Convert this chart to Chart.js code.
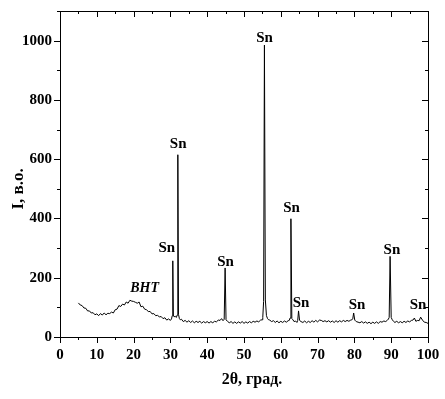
<!DOCTYPE html>
<html><head><meta charset="utf-8">
<script src="https://cdn.jsdelivr.net/npm/chart.js@4/dist/chart.umd.min.js"></script>
<style>html,body{margin:0;padding:0;background:#fff}</style>
</head><body>
<canvas id="c" width="445" height="399"></canvas>
<script>
// 2θ (degrees) and intensity (a.u.)
const twoTheta = [
 5.0,5.5,6.0,6.5,7.0,7.5,8.0,8.5,9.0,9.5,10.0,10.5,11.0,11.5,12.0,12.5,13.0,13.5,14.0,14.5,
 15.0,15.5,16.0,16.5,17.0,17.5,18.0,18.5,19.0,19.5,20.0,20.5,21.0,21.5,22.0,22.5,23.0,23.5,24.0,24.5,
 25.0,25.5,26.0,26.5,27.0,27.5,28.0,28.5,29.0,29.5,30.0,30.3,30.5,30.65,30.8,31.0,31.3,31.6,31.85,32.02,
 32.2,32.45,32.7,33.0,33.5,34.0,34.5,35.0,35.5,36.0,36.5,37.0,37.5,38.0,38.5,39.0,39.5,40.0,
 40.5,41.0,41.5,42.0,42.5,43.0,43.5,43.9,44.3,44.62,44.87,45.12,45.5,46.0,46.5,47.0,47.5,48.0,48.5,
 49.0,49.5,50.0,50.5,51.0,51.5,52.0,52.5,53.0,53.5,54.0,54.5,54.9,55.1,55.33,55.55,55.8,56.1,
 56.4,56.7,57.0,57.5,58.0,58.5,59.0,59.5,60.0,60.5,61.0,61.5,62.0,62.3,62.52,62.75,63.0,63.3,63.6,
 64.0,64.38,64.6,64.82,65.1,65.5,66.0,66.5,67.0,67.5,68.0,68.5,69.0,69.5,70.0,70.5,71.0,71.5,72.0,72.5,
 73.0,73.5,74.0,74.5,75.0,75.5,76.0,76.5,77.0,77.5,78.0,78.5,79.0,79.32,79.55,79.8,80.1,80.5,81.0,81.5,
 82.0,82.5,83.0,83.5,84.0,84.5,85.0,85.5,86.0,86.5,87.0,87.5,88.0,88.5,89.0,89.22,89.45,89.7,90.0,
 90.3,90.7,91.0,91.5,92.0,92.5,93.0,93.5,94.0,94.5,95.0,95.5,95.9,96.3,96.7,97.2,97.6,98.0,98.5,99.0,
 99.5,100.0
];
const intensity = [
 115,108,106,98,97,88,88,81,82,75,78,72,79,74,81,75,80,79,84,81,
 92,94,106,103,111,108,118,114,124,121,120,117,114,118,102,104,94,92,86,86,
 78,79,72,73,68,69,62,65,57,61,56,61,72,257,74,68,70,66,74,615,
 76,62,58,60,52,56,50,55,49,54,48,53,49,53,47,52,48,52,
 47,52,48,53,51,57,56,62,55,60,233,58,53,48,52,46,51,46,51,47,
 52,46,51,47,52,48,53,50,54,51,57,58,66,120,985,125,72,62,
 58,57,52,55,49,54,48,53,49,54,50,55,56,64,399,62,58,52,54,
 49,56,88,56,52,49,54,48,53,49,55,50,56,51,57,56,52,55,51,55,
 50,54,49,55,50,55,51,56,52,56,53,57,58,61,81,57,52,50,48,52,
 47,51,46,50,45,50,46,51,46,52,50,54,52,57,60,66,272,66,58,
 52,49,53,48,52,48,53,49,54,51,56,57,64,53,56,55,67,57,50,49,
 46,47
];
// peak annotations (position in data units)
const peakLabelText = ['Sn','Sn','Sn','Sn','Sn','Sn','Sn','Sn','Sn','ВНТ'];
const peakLabelX    = [29.0, 32.1, 45.0, 55.6, 62.9, 65.5, 80.7, 90.2, 97.3, 23.0];
const peakLabelY    = [300, 652, 253, 1008, 435, 115, 109, 294, 109, 165];

const xMin = 0, xMax = 100, yMin = 0, yMax = 1100;

const serif = '"Liberation Serif", "Times New Roman", serif';

const framePlugin = {
  id: 'frame',
  afterDraw(chart) {
    const {ctx, chartArea: a, scales: {x, y}} = chart;
    ctx.save();
    ctx.strokeStyle = '#000';
    ctx.lineWidth = 1;
    ctx.strokeRect(Math.round(a.left) + 0.5, Math.round(a.top) + 0.5,
                   Math.round(a.right - a.left), Math.round(a.bottom - a.top));
    ctx.beginPath();
    x.ticks.forEach(t => {
      const px = Math.round(x.getPixelForValue(t.value)) + 0.5;
      const len = t.value % 10 === 0 ? 6 : 3;
      ctx.moveTo(px, a.bottom); ctx.lineTo(px, a.bottom + len);
      ctx.moveTo(px, a.top); ctx.lineTo(px, a.top + len);
    });
    y.ticks.forEach(t => {
      const py = Math.round(y.getPixelForValue(t.value)) + 0.5;
      const len = t.value % 200 === 0 ? 6 : 3;
      ctx.moveTo(a.left - len, py); ctx.lineTo(a.left, py);
      ctx.moveTo(a.right - len, py); ctx.lineTo(a.right, py);
    });
    ctx.stroke();
    ctx.fillStyle = '#000';
    ctx.textAlign = 'center';
    ctx.textBaseline = 'middle';
    peakLabelText.forEach((s, i) => {
      ctx.font = (s === 'Sn' ? 'bold 15px ' : 'italic bold 14px ') + serif;
      ctx.fillText(s, x.getPixelForValue(peakLabelX[i]), y.getPixelForValue(peakLabelY[i]));
    });
    ctx.restore();
  }
};

function noOverflow(s) {
  s.paddingTop = 0; s.paddingBottom = 0; s.paddingLeft = 0; s.paddingRight = 0;
}

new Chart(document.getElementById('c'), {
  type: 'line',
  data: {
    datasets: [{
      data: twoTheta.map((v, i) => ({x: v, y: intensity[i]})),
      borderColor: '#000',
      borderWidth: 1,
      pointRadius: 0,
      tension: 0,
      fill: false
    }]
  },
  options: {
    responsive: false,
    animation: false,
    layout: {padding: {top: 11, right: 17, left: 0, bottom: 0}},
    plugins: {legend: {display: false}, tooltip: {enabled: false}},
    scales: {
      x: {
        type: 'linear', min: xMin, max: xMax,
        grid: {display: false, drawTicks: false},
        border: {display: false},
        ticks: {
          stepSize: 5, autoSkip: false, maxRotation: 0, padding: 9, color: '#000',
          font: {family: serif, size: 15, weight: 'bold'},
          callback: v => (v % 10 === 0 ? String(v) : '')
        },
        title: {display: true, text: '    2θ, град.', color: '#000',
                font: {family: serif, size: 16, weight: 'bold'}, padding: {top: 0, bottom: 10}},
        afterFit: s => { s.height = 62; noOverflow(s); }
      },
      y: {
        type: 'linear', min: yMin, max: yMax,
        grid: {display: false, drawTicks: false},
        border: {display: false},
        ticks: {
          stepSize: 100, autoSkip: false, padding: 8, color: '#000',
          font: {family: serif, size: 15, weight: 'bold'},
          callback: v => (v % 200 === 0 ? String(v) : '')
        },
        title: {display: true, text: 'I, в.о.       ', color: '#000',
                font: {family: serif, size: 17, weight: 'bold'}, padding: {top: 8, bottom: 0}},
        afterFit: s => { s.width = 60; noOverflow(s); }
      }
    }
  },
  plugins: [framePlugin]
});
</script>
</body></html>
